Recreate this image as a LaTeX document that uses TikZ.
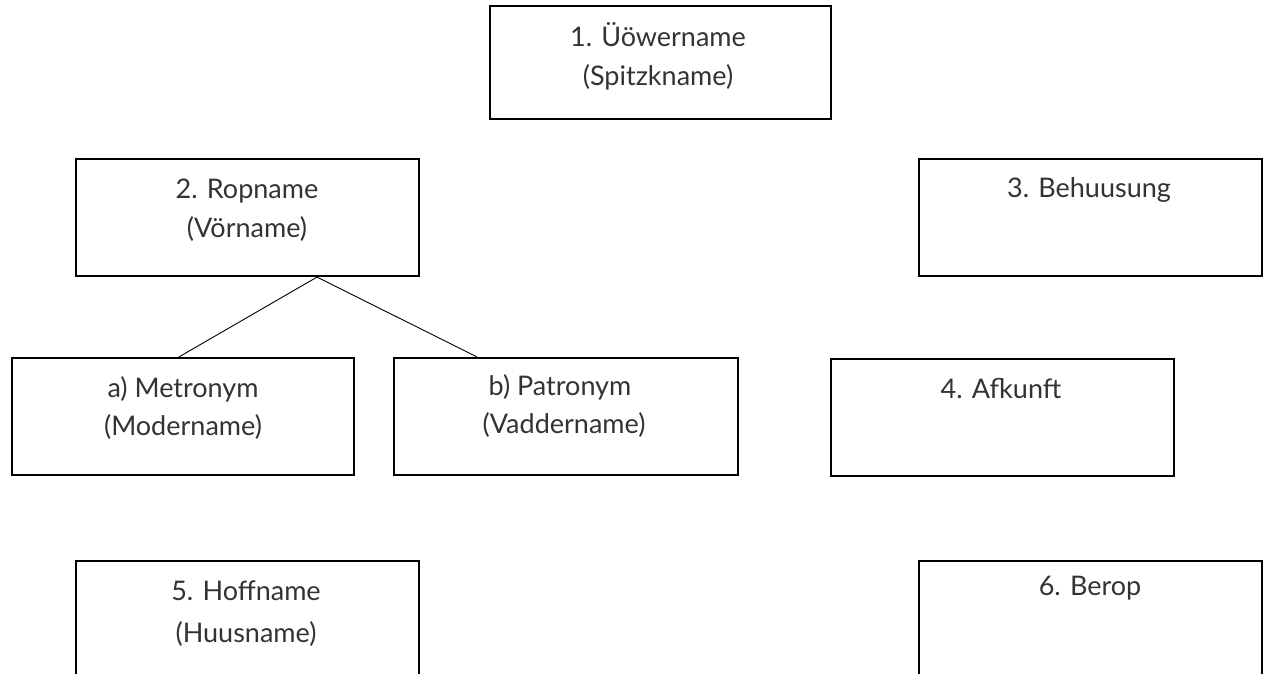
\documentclass[tikz,border=0pt]{standalone}
\usepackage{fontspec}
\setmainfont{Lato}
\begin{document}
\begin{tikzpicture}[x=1pt,y=-1pt,
  box/.style={draw, line width=2.2pt, rectangle, inner sep=0pt},
  txt/.style={anchor=base, inner sep=0pt, font=\fontsize{27}{31}\selectfont, text=black!80},
  link/.style={line width=0.9pt}]
\useasboundingbox (0,0) rectangle (1266,674);
% boxes
\node[box, minimum width=341pt, minimum height=113pt] (n1) at (660.5,62.5) {};
\node[box, minimum width=343pt, minimum height=117pt] (n2) at (247.5,217.5) {};
\node[box, minimum width=343pt, minimum height=117pt] (n3) at (1090.5,217.5) {};
\node[box, minimum width=342pt, minimum height=117pt] (na) at (183,416.5) {};
\node[box, minimum width=344pt, minimum height=117pt] (nb) at (566,416.5) {};
\node[box, minimum width=343pt, minimum height=117pt] (n4) at (1002.5,417.5) {};
\node[box, minimum width=343pt, minimum height=130pt] (n5) at (247.5,626) {};
\node[box, minimum width=343pt, minimum height=130pt] (n6) at (1090.5,626) {};
% texts
\node[txt] (t1a) at (658,47) {1. Üöwername};
\node[txt] (t1b) at (658,86) {(Spitzkname)};
\node[txt] (t2a) at (247,198) {2. Ropname};
\node[txt] (t2b) at (247,237) {(Vörname)};
\node[txt] (t3) at (1089,197) {3. Behuusung};
\node[txt] (taa) at (183,397) {a) Metronym};
\node[txt] (tab) at (183,435) {(Modername)};
\node[txt] (tba) at (560,395) {b) Patronym};
\node[txt] (tbb) at (564,433) {(Vaddername)};
\node[txt] (t4) at (1001,398) {4. Afkunft};
\node[txt] (t5a) at (246,600) {5. Hoffname};
\node[txt] (t5b) at (246,642) {(Huusname)};
\node[txt] (t6) at (1090,595) {6. Berop};
% connectors
\draw[link] ([xshift=69.5pt]n2.south) -- ([xshift=-4pt]na.north);
\draw[link] ([xshift=69.5pt]n2.south) -- ([xshift=-89pt]nb.north);
\end{tikzpicture}
\end{document}
